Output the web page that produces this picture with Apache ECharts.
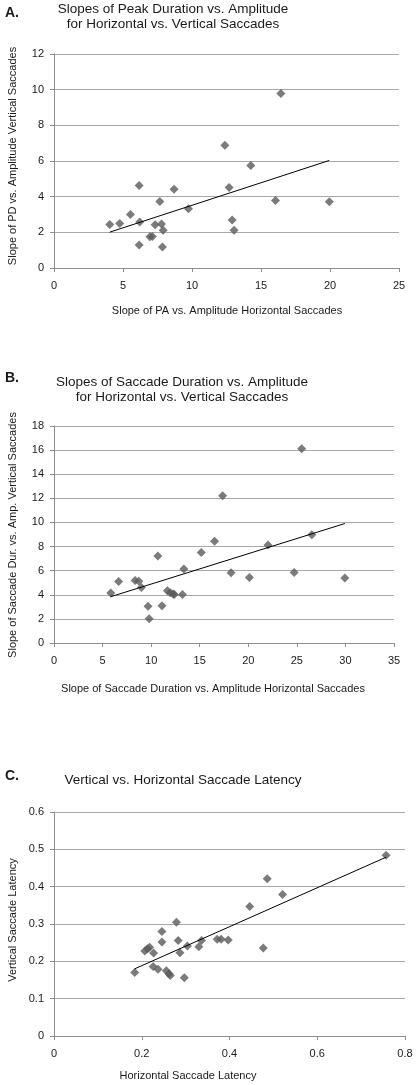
<!DOCTYPE html>
<html>
<head>
<meta charset="utf-8">
<script src="https://cdn.jsdelivr.net/npm/echarts@6/dist/echarts.min.js"></script>
<style>
html,body{margin:0;padding:0;background:#fff;}
#c{width:416px;height:1085px;}
</style>
</head>
<body>
<div id="c"></div>
<script>
// Panel A: slopes of peak duration vs amplitude
const aX = [4.04, 4.76, 5.54, 6.17, 6.21, 6.17, 6.95, 7.13, 7.33, 7.67, 7.79, 7.91, 7.86, 8.70, 9.74, 12.38, 12.69, 12.91, 13.05, 14.26, 16.05, 16.44, 19.95];
const aY = [2.44, 2.50, 3.00, 4.62, 2.58, 1.29, 1.75, 1.77, 2.43, 3.73, 2.47, 2.12, 1.18, 4.42, 3.32, 6.88, 4.52, 2.69, 2.11, 5.75, 3.78, 9.78, 3.72];
const aTrendX = [4.04, 19.95];
const aTrendY = [2.01, 6.03];

// Panel B: slopes of saccade duration vs amplitude
const bX = [5.85, 6.65, 8.35, 8.73, 9.00, 9.68, 9.80, 10.69, 11.12, 11.67, 11.97, 12.27, 12.38, 13.22, 13.37, 15.16, 16.53, 17.36, 18.23, 20.11, 22.03, 24.72, 25.50, 26.54, 29.94];
const bY = [4.14, 5.10, 5.18, 5.12, 4.60, 3.04, 2.02, 7.21, 3.08, 4.34, 4.17, 4.06, 4.03, 4.03, 6.13, 7.51, 8.45, 12.21, 5.82, 5.44, 8.12, 5.85, 16.12, 8.98, 5.39];
const bTrendX = [5.84, 29.94];
const bTrendY = [3.84, 9.91];

// Panel C: saccade latency
const cX = [0.184, 0.207, 0.213, 0.218, 0.227, 0.226, 0.237, 0.246, 0.246, 0.256, 0.262, 0.265, 0.279, 0.283, 0.287, 0.297, 0.304, 0.330, 0.336, 0.372, 0.381, 0.397, 0.446, 0.477, 0.486, 0.521, 0.757];
const cY = [0.170, 0.228, 0.234, 0.238, 0.222, 0.186, 0.179, 0.280, 0.252, 0.175, 0.167, 0.162, 0.305, 0.256, 0.223, 0.156, 0.241, 0.239, 0.256, 0.259, 0.259, 0.257, 0.347, 0.236, 0.421, 0.379, 0.484];
const cTrendX = [0.184, 0.757];
const cTrendY = [0.180, 0.479];

const xTicksA = {min: 0, max: 25, interval: 5};
const yTicksA = {min: 0, max: 12, interval: 2};
const xTicksB = {min: 0, max: 35, interval: 5};
const yTicksB = {min: 0, max: 18, interval: 2};
const xTicksC = {min: 0, max: 0.8, interval: 0.2};
const yTicksC = {min: 0, max: 0.6, interval: 0.1};

const zip = (xs, ys) => xs.map((x, i) => [x, ys[i]]);

const TXT = '#1a1a1a';
const FONT = 'Liberation Sans, Arial, sans-serif';
const GRIDC = '#a9a9a9';
const AXC = '#8f8f8f';
const MARK = '#5a5a5a';

function xAxis(idx, t) {
  return {
    type: 'value', gridIndex: idx, min: t.min, max: t.max, interval: t.interval,
    axisLine: {show: true, onZero: false, lineStyle: {color: AXC, width: 1}},
    axisTick: {show: true, length: 4, lineStyle: {color: AXC}},
    splitLine: {show: false},
    axisLabel: {color: TXT, fontFamily: FONT, fontSize: 11, margin: 12}
  };
}
function yAxis(idx, t) {
  return {
    type: 'value', gridIndex: idx, min: t.min, max: t.max, interval: t.interval,
    axisLine: {show: true, onZero: false, lineStyle: {color: AXC, width: 1}},
    axisTick: {show: true, length: 4, lineStyle: {color: AXC}},
    splitLine: {show: true, lineStyle: {color: GRIDC, width: 1}},
    axisLabel: {color: TXT, fontFamily: FONT, fontSize: 11, margin: 10}
  };
}
function scatter(idx, xs, ys) {
  return {
    type: 'scatter', xAxisIndex: idx, yAxisIndex: idx, data: zip(xs, ys),
    symbol: 'diamond', symbolSize: 9, itemStyle: {color: MARK}, silent: true, z: 3
  };
}
function trend(idx, xs, ys) {
  return {
    type: 'line', xAxisIndex: idx, yAxisIndex: idx, data: zip(xs, ys),
    symbol: 'none', lineStyle: {color: '#000', width: 1}, silent: true, z: 4, animation: false
  };
}
function txt(x, y, s, size, opts) {
  return Object.assign({
    type: 'text', x: x, y: y,
    style: {text: s, fill: TXT, font: (opts && opts.bold ? 'bold ' : '') + size + 'px ' + FONT,
            textAlign: (opts && opts.align) || 'center', textVerticalAlign: 'middle'}
  }, opts && opts.rot ? {rotation: Math.PI / 2} : {});
}

const chart = echarts.init(document.getElementById('c'), null, {renderer: 'canvas'});
chart.setOption({
  animation: false,
  backgroundColor: '#ffffff',
  grid: [
    {left: 54, top: 54, width: 345, height: 214},
    {left: 54, top: 426, width: 340, height: 217},
    {left: 54, top: 812, width: 351, height: 224}
  ],
  xAxis: [xAxis(0, xTicksA), xAxis(1, xTicksB), xAxis(2, xTicksC)],
  yAxis: [yAxis(0, yTicksA), yAxis(1, yTicksB), yAxis(2, yTicksC)],
  series: [
    scatter(0, aX, aY), trend(0, aTrendX, aTrendY),
    scatter(1, bX, bY), trend(1, bTrendX, bTrendY),
    scatter(2, cX, cY), trend(2, cTrendX, cTrendY)
  ],
  graphic: [
    txt(5, 13, 'A.', 14, {bold: true, align: 'left'}),
    txt(173, 9, 'Slopes of Peak Duration vs. Amplitude', 13.5),
    txt(173, 24, 'for Horizontal vs. Vertical Saccades', 13.5),
    txt(227, 311, 'Slope of PA vs. Amplitude Horizontal Saccades', 11),
    txt(13, 156, 'Slope of PD vs. Amplitude Vertical Saccades', 11, {rot: true}),

    txt(5, 378, 'B.', 14, {bold: true, align: 'left'}),
    txt(182, 382, 'Slopes of Saccade Duration vs. Amplitude', 13.5),
    txt(182, 397, 'for Horizontal vs. Vertical Saccades', 13.5),
    txt(213, 689, 'Slope of Saccade Duration vs. Amplitude Horizontal Saccades', 11),
    txt(13, 535, 'Slope of Saccade Dur. vs. Amp. Vertical Saccades', 11, {rot: true}),

    txt(5, 776, 'C.', 14, {bold: true, align: 'left'}),
    txt(183, 780, 'Vertical vs. Horizontal Saccade Latency', 13.5),
    txt(188, 1076, 'Horizontal Saccade Latency', 11),
    txt(13, 920, 'Vertical Saccade Latency', 11, {rot: true})
  ]
});
</script>
</body>
</html>
